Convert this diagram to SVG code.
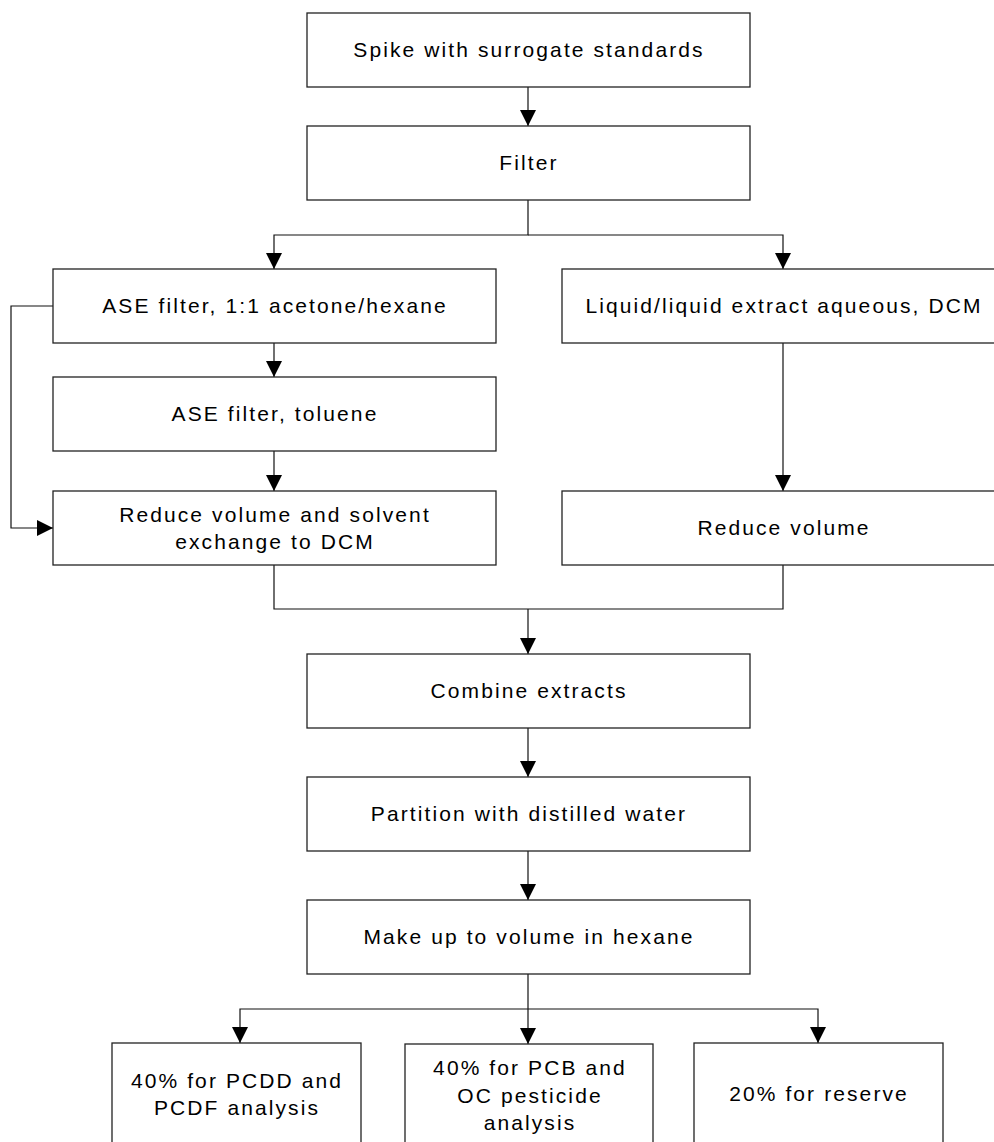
<svg xmlns="http://www.w3.org/2000/svg" width="994" height="1142" viewBox="0 0 994 1142">
<style>
  .box { fill: #ffffff; stroke: #222222; stroke-width: 1.3; }
  .lbl { font-family: "Liberation Sans", Arial, sans-serif; font-size: 21px; letter-spacing: 2.1px; fill: #000000; text-anchor: middle; }
  .conn { fill: none; stroke: #111111; stroke-width: 1.2; }
</style>
<defs>
  <marker id="arr" markerUnits="userSpaceOnUse" markerWidth="16" markerHeight="16" viewBox="0 0 15 15" refX="15" refY="7.5" orient="auto">
    <path d="M0,0 L15,7.5 L0,15 Z" fill="#000000"/>
  </marker>
</defs>
<rect width="994" height="1142" fill="#ffffff"/>

<g id="connectors">
  <path class="conn" d="M528,87 V126" marker-end="url(#arr)"/>
  <path class="conn" d="M528,200 V235 H274 V269" marker-end="url(#arr)"/>
  <path class="conn" d="M528,235 H783 V269" marker-end="url(#arr)"/>
  <path class="conn" d="M274,343 V377" marker-end="url(#arr)"/>
  <path class="conn" d="M53,306 H11 V528 H53" marker-end="url(#arr)"/>
  <path class="conn" d="M274,451 V491" marker-end="url(#arr)"/>
  <path class="conn" d="M783,343 V491" marker-end="url(#arr)"/>
  <path class="conn" d="M274,565 V609 H783 V565"/>
  <path class="conn" d="M528,609 V654" marker-end="url(#arr)"/>
  <path class="conn" d="M528,728 V777" marker-end="url(#arr)"/>
  <path class="conn" d="M528,851 V900" marker-end="url(#arr)"/>
  <path class="conn" d="M528,974 V1044" marker-end="url(#arr)"/>
  <path class="conn" d="M528,1009 H240 V1043" marker-end="url(#arr)"/>
  <path class="conn" d="M528,1009 H818 V1043" marker-end="url(#arr)"/>
</g>

<g id="spike">
  <rect class="box" x="307" y="13" width="443" height="74"/>
  <text class="lbl" x="529" y="57">Spike with surrogate standards</text>
</g>
<g id="filter">
  <rect class="box" x="307" y="126" width="443" height="74"/>
  <text class="lbl" x="529" y="170">Filter</text>
</g>
<g id="ase-acetone">
  <rect class="box" x="53" y="269" width="443" height="74"/>
  <text class="lbl" x="275" y="313">ASE filter, 1:1 acetone/hexane</text>
</g>
<g id="liquid">
  <rect class="box" x="562" y="269" width="443" height="74"/>
  <text class="lbl" x="784" y="313">Liquid/liquid extract aqueous, DCM</text>
</g>
<g id="ase-toluene">
  <rect class="box" x="53" y="377" width="443" height="74"/>
  <text class="lbl" x="275" y="421">ASE filter, toluene</text>
</g>
<g id="reduce-exchange">
  <rect class="box" x="53" y="491" width="443" height="74"/>
  <text class="lbl" x="275" y="522">Reduce volume and solvent</text>
  <text class="lbl" x="275" y="549">exchange to DCM</text>
</g>
<g id="reduce-volume">
  <rect class="box" x="562" y="491" width="443" height="74"/>
  <text class="lbl" x="784" y="535">Reduce volume</text>
</g>
<g id="combine">
  <rect class="box" x="307" y="654" width="443" height="74"/>
  <text class="lbl" x="529" y="698">Combine extracts</text>
</g>
<g id="partition">
  <rect class="box" x="307" y="777" width="443" height="74"/>
  <text class="lbl" x="529" y="821">Partition with distilled water</text>
</g>
<g id="makeup">
  <rect class="box" x="307" y="900" width="443" height="74"/>
  <text class="lbl" x="529" y="944">Make up to volume in hexane</text>
</g>
<g id="pcdd">
  <rect class="box" x="112" y="1043" width="249" height="110"/>
  <text class="lbl" x="237" y="1088">40% for PCDD and</text>
  <text class="lbl" x="237" y="1115">PCDF analysis</text>
</g>
<g id="pcb">
  <rect class="box" x="405" y="1044" width="248" height="110"/>
  <text class="lbl" x="530" y="1075">40% for PCB and</text>
  <text class="lbl" x="530" y="1103">OC pesticide</text>
  <text class="lbl" x="530" y="1130">analysis</text>
</g>
<g id="reserve">
  <rect class="box" x="694" y="1043" width="249" height="110"/>
  <text class="lbl" x="819" y="1101">20% for reserve</text>
</g>
</svg>
